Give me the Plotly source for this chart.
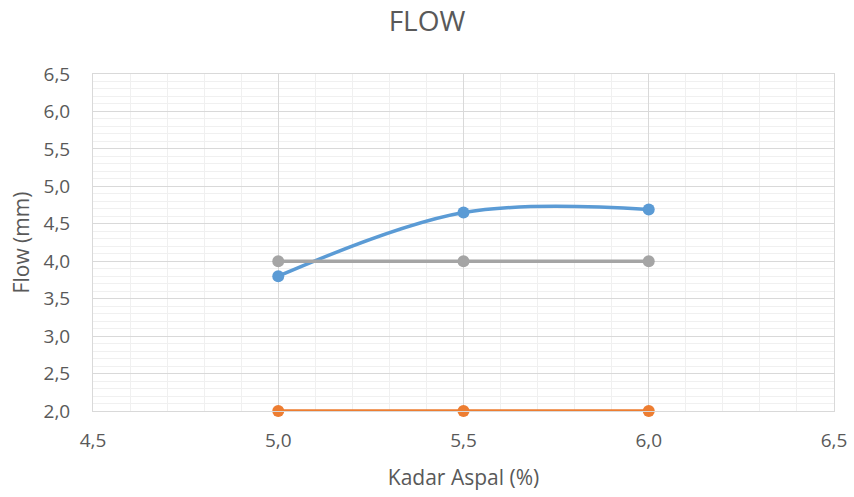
import plotly.graph_objects as go

kadar = [5.0, 5.5, 6.0]
flow_hasil = [3.8, 4.65, 4.69]
flow_min = [2.0, 2.0, 2.0]
flow_max = [4.0, 4.0, 4.0]

x_ticks = [4.5, 5.0, 5.5, 6.0, 6.5]
x_labels = ["4,5", "5,0", "5,5", "6,0", "6,5"]
y_ticks = [2.0, 2.5, 3.0, 3.5, 4.0, 4.5, 5.0, 5.5, 6.0, 6.5]
y_labels = ["2,0", "2,5", "3,0", "3,5", "4,0", "4,5", "5,0", "5,5", "6,0", "6,5"]

fig = go.Figure()
fig.add_trace(go.Scatter(x=kadar, y=flow_hasil, mode="lines+markers", cliponaxis=False,
                         line=dict(color="#5B9BD5", width=3.5, shape="spline", smoothing=1.0),
                         marker=dict(size=12, color="#5B9BD5"), name="Flow"))
fig.add_trace(go.Scatter(x=kadar, y=flow_min, mode="lines+markers", cliponaxis=False,
                         line=dict(color="#ED7D31", width=3.5),
                         marker=dict(size=12, color="#ED7D31"), name="Min"))
fig.add_trace(go.Scatter(x=kadar, y=flow_max, mode="lines+markers", cliponaxis=False,
                         line=dict(color="#A5A5A5", width=3.5),
                         marker=dict(size=12, color="#A5A5A5"), name="Max"))

font_family = "Open Sans, Noto Sans, sans-serif"
fig.update_layout(
    width=854, height=497,
    margin=dict(l=93, r=20, t=74, b=86, autoexpand=False),
    paper_bgcolor="white", plot_bgcolor="white",
    showlegend=False,
    title=dict(text="FLOW", x=0.5, xanchor="center", y=0.957, yanchor="middle",
               font=dict(size=28, color="#595959", family=font_family)),
    font=dict(family=font_family, color="#595959"),
)
fig.update_xaxes(
    range=[4.5, 6.5], tickvals=x_ticks, ticktext=x_labels,
    tickfont=dict(size=19, color="#595959"),
    showgrid=True, gridcolor="#D9D9D9", gridwidth=1,
    minor=dict(dtick=0.1, showgrid=True, gridcolor="#F0F0F0", gridwidth=1),
    showline=True, linecolor="#D9D9D9", linewidth=1, mirror=True,
    zeroline=False, ticks="", ticklabelstandoff=12, automargin=False,
    title=dict(text="Kadar Aspal (%)", font=dict(size=21, color="#595959"), standoff=18),
)
fig.update_yaxes(
    range=[2.0, 6.5], tickvals=y_ticks, ticktext=y_labels,
    tickfont=dict(size=19, color="#595959"),
    showgrid=True, gridcolor="#D9D9D9", gridwidth=1,
    minor=dict(dtick=0.1, showgrid=True, gridcolor="#F0F0F0", gridwidth=1),
    showline=True, linecolor="#D9D9D9", linewidth=1, mirror=True,
    zeroline=False, ticks="", ticklabelstandoff=18, automargin=False,
    title=dict(text="Flow (mm)", font=dict(size=21, color="#595959"), standoff=8),
)

fig.write_html("out.html")
